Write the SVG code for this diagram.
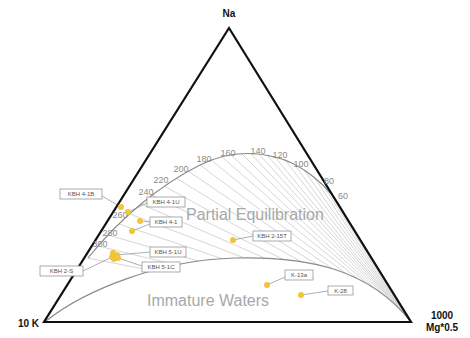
<svg xmlns="http://www.w3.org/2000/svg" width="470" height="338" viewBox="0 0 470 338">
<style>
.hatch{stroke:#c4c4c4;stroke-width:0.7;fill:none}
.curve{stroke:#8a8a8a;stroke-width:1.2;fill:none}
.tri{stroke:#111;stroke-width:2.2;fill:none;stroke-linejoin:miter}
.corner{font-family:"Liberation Sans",Arial,sans-serif;font-weight:bold;font-size:10px;fill:#111}
.temp{font-family:"Liberation Sans",Arial,sans-serif;font-size:9px;fill:#8a8a8a;text-anchor:middle}
.region{font-family:"Liberation Sans",Arial,sans-serif;font-size:16px;fill:#a8a8a8}
.box rect{fill:#fff;stroke:#888;stroke-width:0.7}
.box text{font-family:"Liberation Sans",Arial,sans-serif;font-size:6px;fill:#555;text-anchor:middle}
.lead{stroke:#8a8aa8;stroke-width:0.7;fill:none}
.dot{fill:#f0c53a}
</style>
<defs>
<clipPath id="above">
<path d="M0,0 L470,0 L470,322 L411,322 C370,270 310,256 235,258 C160,260 85,290 46,321 L0,322 Z"/>
</clipPath>
</defs>
<rect width="470" height="338" fill="#fff"/>
<g id="connectors">
<g id="hatching" clip-path="url(#above)">
<path class="hatch" d="M88,258L411,322M98,246L411,322M108,235L411,322M119,224L411,322M130,214L411,322M141,204L411,322M152,195L411,322M164,186L411,322M176,178L411,322M188,171L411,322M200,165L411,322M211,160L411,322M222,157L411,322M231,155L411,322M241,153L411,322M250,153L411,322M259,154L411,322M267,155L411,322M275,157L411,322M285,160L411,322M294,164L411,322M304,170L411,322M314,177L411,322M323,185L411,322M331,194L411,322M340,206L411,322"/>
</g>
<path id="full-equilibrium" class="curve" d="M88,258 C120,218 160,185 200,165 C230,150 255,152 275,157 C300,163 330,185 345,215"/>
<path id="immature-line" class="curve" d="M46,321 C85,290 160,260 235,258 C310,256 370,270 411,322"/>
<path class="lead" d="M102,196L121,207M147,203L128,212M150,222L140,221M150,224L132,231M150,252L117,255M142,266L118,258M83,271L112,257M253,236L233,240M285,277L267,285M328,291L301,295"/>
</g>
<g id="triangle">
<path class="tri" d="M229,28 L411,322 L44,322 Z"/>
</g>
<g id="labels">
<text class="corner" x="229" y="17" text-anchor="middle" font-size="11">Na</text>
<text class="corner" x="39" y="327" text-anchor="end">10 K</text>
<text class="corner" x="442" y="319" text-anchor="middle">1000</text>
<text class="corner" x="442" y="331" text-anchor="middle">Mg*0.5</text>
<text class="region" x="186" y="220">Partial Equilibration</text>
<text class="region" x="147" y="306">Immature Waters</text>
</g>
<g id="temperatures">
<text class="temp" x="100" y="247">300</text>
<text class="temp" x="110" y="236">280</text>
<text class="temp" x="120" y="218">260</text>
<text class="temp" x="146" y="195">240</text>
<text class="temp" x="161" y="183">220</text>
<text class="temp" x="181" y="172">200</text>
<text class="temp" x="204" y="162">180</text>
<text class="temp" x="228" y="156">160</text>
<text class="temp" x="258" y="154">140</text>
<text class="temp" x="280" y="158">120</text>
<text class="temp" x="301" y="167">100</text>
<text class="temp" x="329" y="184">80</text>
<text class="temp" x="343" y="199">60</text>
</g>
<g id="KBH4-1B" class="box"><circle class="dot" cx="121" cy="207" r="3"/><rect x="60" y="189" width="42" height="10"/><text x="81" y="196">KBH 4-1B</text></g>
<g id="KBH4-1U" class="box"><circle class="dot" cx="128" cy="212" r="3"/><rect x="147" y="197" width="38" height="10"/><text x="166" y="204">KBH 4-1U</text></g>
<g id="KBH4-1" class="box"><circle class="dot" cx="140" cy="221" r="3"/><circle class="dot" cx="132" cy="231" r="3"/><rect x="150" y="217" width="32" height="10"/><text x="166" y="224">KBH 4-1</text></g>
<g id="KBH5-1U" class="box"><circle class="dot" cx="117" cy="255" r="3"/><circle class="dot" cx="113" cy="253" r="3"/><rect x="150" y="247" width="36" height="10"/><text x="168" y="254">KBH 5-1U</text></g>
<g id="KBH5-1C" class="box"><circle class="dot" cx="118" cy="258" r="3"/><circle class="dot" cx="114" cy="259" r="3"/><rect x="142" y="262" width="38" height="10"/><text x="161" y="269">KBH 5-1C</text></g>
<g id="KBH2-S" class="box"><circle class="dot" cx="112" cy="257" r="3"/><rect x="40" y="266" width="43" height="10"/><text x="61.5" y="273">KBH 2-S</text></g>
<g id="KBH2-15T" class="box"><circle class="dot" cx="233" cy="240" r="3"/><rect x="253" y="231" width="38" height="10"/><text x="272" y="238">KBH 2-15T</text></g>
<g id="K-13a" class="box"><circle class="dot" cx="267" cy="285" r="3"/><rect x="285" y="270" width="28" height="10"/><text x="299" y="277">K-13a</text></g>
<g id="K-28" class="box"><circle class="dot" cx="301" cy="295" r="3"/><rect x="328" y="286" width="25" height="9"/><text x="340.5" y="292.5">K-28</text></g>
</svg>
